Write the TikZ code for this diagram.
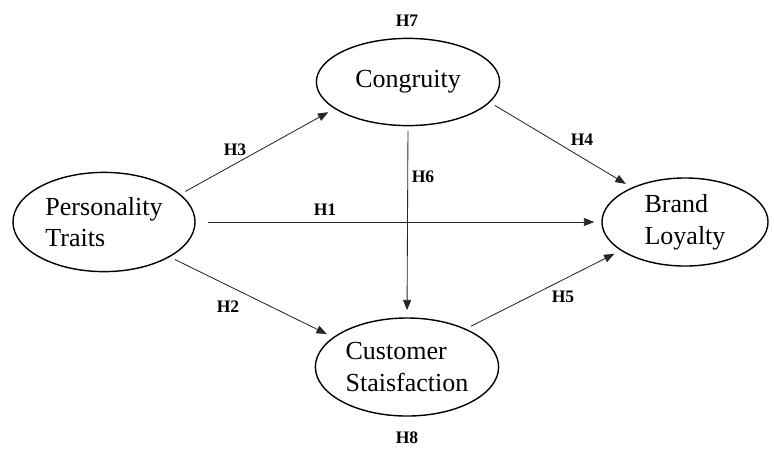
\documentclass[tikz,border=0pt]{standalone}
\usepackage{fontspec}
\setmainfont{Liberation Serif}
\usetikzlibrary{shapes.geometric,arrows.meta,positioning}

\begin{document}
\begin{tikzpicture}[
    x=0.025cm, y=-0.025cm,
    >={Triangle[length=2.6mm,width=2mm]},
    construct/.style={ellipse, draw=black, line width=1pt, align=left, inner sep=0pt, font=\fontsize{18.5}{22.5}\selectfont},
    hyp/.style={inner sep=1pt, font=\fontsize{12.5}{14}\selectfont\bfseries},
    link/.style={->, line width=0.6pt, draw=black!85, shorten <=4pt, shorten >=5pt}
  ]
    \useasboundingbox (0,0) rectangle (774,449);

    \node[construct, minimum width=4.55cm, minimum height=2.48cm] (pers) at (104,222) {Personality\\Traits};
    \node[construct, minimum width=4.58cm, minimum height=2.18cm] (cong) at (408,82) {Congruity};
    \node[construct, minimum width=4.58cm, minimum height=2.45cm] (sat) at (407,367) {Customer\\Staisfaction};
    \node[construct, minimum width=4.15cm, minimum height=2.2cm] (loyal) at (685,222) {Brand\\Loyalty};

    \node[hyp] (h1) at (325,210) {H1};
    \node[hyp] (h2) at (228,307) {H2};
    \node[hyp] (h3) at (235,150) {H3};
    \node[hyp] (h4) at (582,140) {H4};
    \node[hyp] (h5) at (563,297) {H5};
    \node[hyp] (h6) at (423,177) {H6};
    \node[hyp] (h7) at (407,21) {H7};
    \node[hyp] (h8) at (407,438) {H8};

    \draw[link] (pers.20) -- (cong.200);
    \draw[link, shorten <=9pt] (pers.east) -- (loyal.west);
    \draw[link] (pers.-28) -- (sat.158);
    \draw[link] (cong.-14) -- (loyal.147);
    \draw[link, shorten <=3pt] (cong.south) -- (sat.north);
    \draw[link] (sat.33) -- (loyal.204);
  \end{tikzpicture}
\end{document}
